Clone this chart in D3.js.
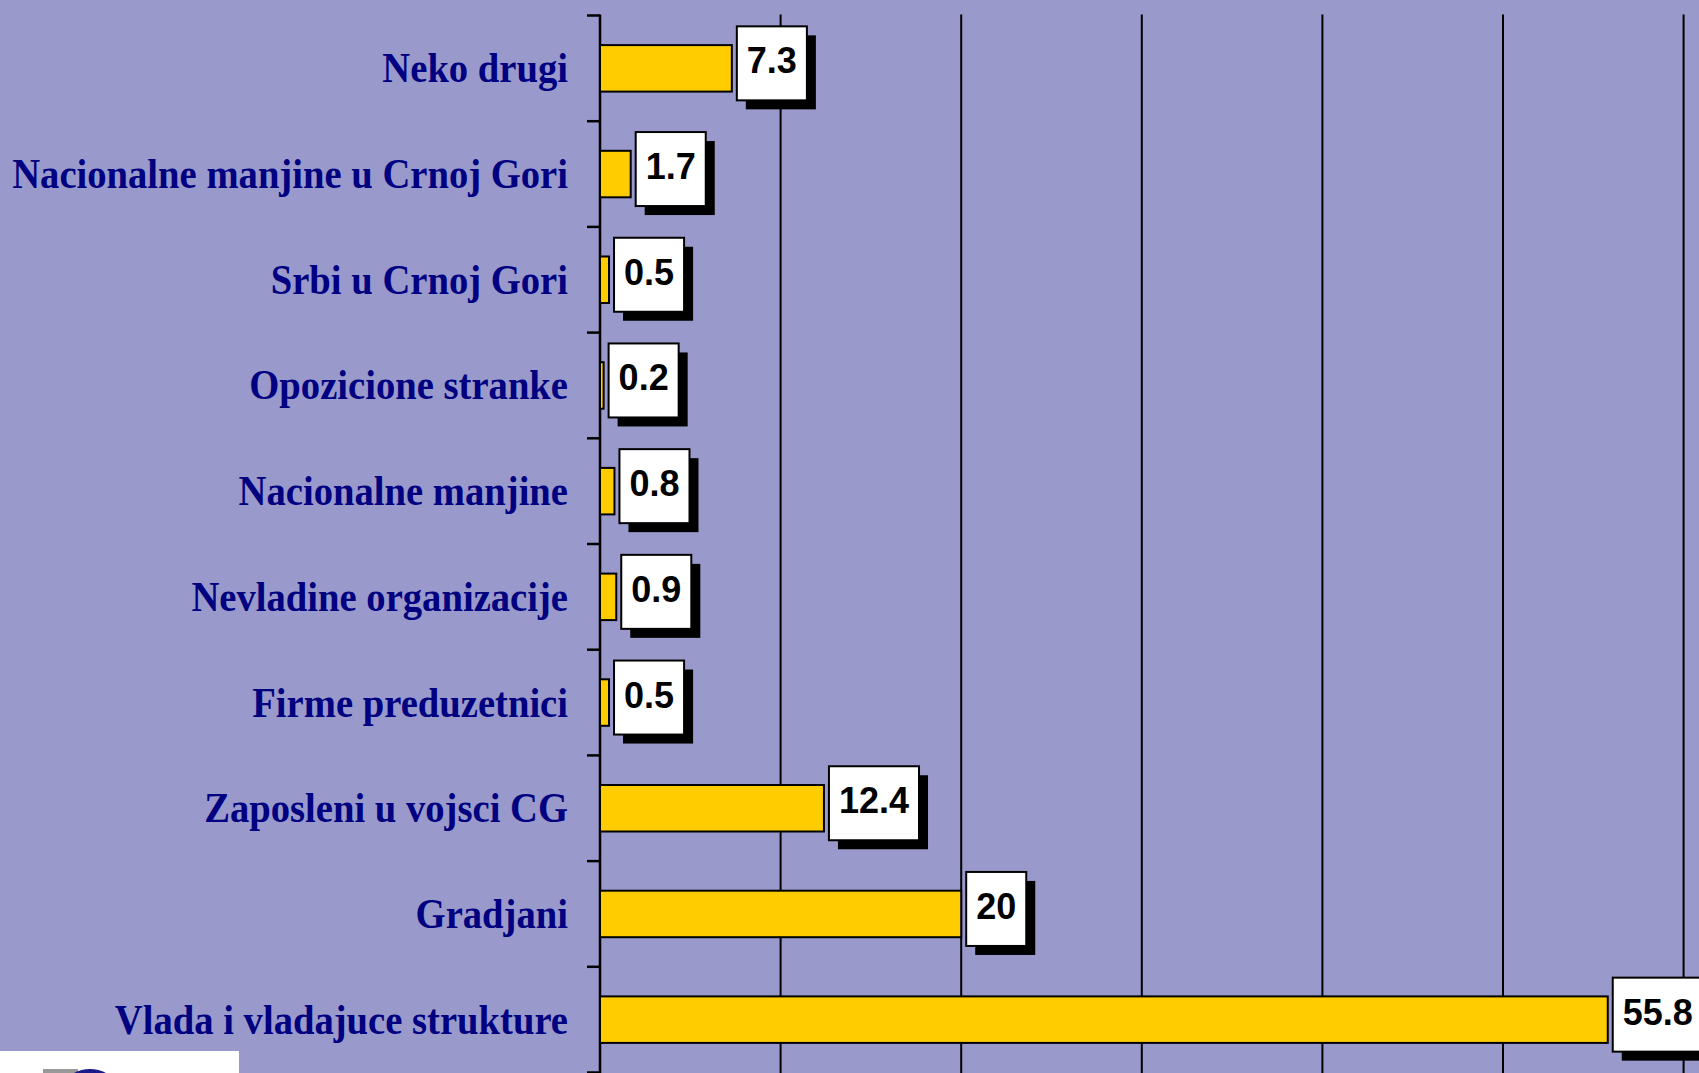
<!DOCTYPE html>
<html>
<head>
<meta charset="utf-8">
<script src="https://cdn.jsdelivr.net/npm/d3@7"></script>
<style>
  html, body { margin: 0; padding: 0; background: #9999cc; overflow: hidden; }
  svg { display: block; }
</style>
</head>
<body>
<svg class="chart"></svg>
<script>
const categories = [
    "Neko drugi",
    "Nacionalne manjine u Crnoj Gori",
    "Srbi u Crnoj Gori",
    "Opozicione stranke",
    "Nacionalne manjine",
    "Nevladine organizacije",
    "Firme preduzetnici",
    "Zaposleni u vojsci CG",
    "Gradjani",
    "Vlada i vladajuce strukture"
];
const values = [7.3, 1.7, 0.5, 0.2, 0.8, 0.9, 0.5, 12.4, 20, 55.8];
const valueLabels = ["7.3", "1.7", "0.5", "0.2", "0.8", "0.9", "0.5", "12.4", "20", "55.8"];
const gridTicks = [10, 20, 30, 40, 50, 60, 70, 80, 90, 100];

const chartWidth = 1699, chartHeight = 1073;
const axisX = 600, plotTop = 15.5;

const chart = d3.select(".chart").attr("width", chartWidth).attr("height", chartHeight);

chart.append("rect").attr("width", chartWidth).attr("height", chartHeight).attr("fill", "#9999cc");

const x = d3.scaleLinear().domain([0, 100]).range([axisX, axisX + 1806]);
const y = d3.scaleBand().domain(categories).range([plotTop, plotTop + 1057])
    .paddingInner(0.56).paddingOuter(0.28);

// vertical grid lines
chart.append("g").selectAll("line").data(gridTicks).enter().append("line")
    .attr("x1", (d) => { return x(d); })
    .attr("x2", (d) => { return x(d); })
    .attr("y1", plotTop - 1)
    .attr("y2", chartHeight)
    .attr("stroke", "#000")
    .attr("stroke-width", 2);

// category axis with ticks on band boundaries
chart.append("line")
    .attr("x1", axisX).attr("x2", axisX)
    .attr("y1", plotTop - 1).attr("y2", chartHeight)
    .attr("stroke", "#000").attr("stroke-width", 2.5);

chart.append("g").selectAll("line").data(d3.range(categories.length + 1)).enter().append("line")
    .attr("x1", axisX - 13).attr("x2", axisX)
    .attr("y1", (i) => { return plotTop + i * y.step(); })
    .attr("y2", (i) => { return plotTop + i * y.step(); })
    .attr("stroke", "#000").attr("stroke-width", 2.5);

// bars
chart.append("g").selectAll("rect").data(values).enter().append("rect")
    .attr("x", x(0))
    .attr("y", (d, i) => { return y(categories[i]); })
    .attr("width", (d) => { return x(d) - x(0); })
    .attr("height", y.bandwidth())
    .attr("fill", "#ffcc00")
    .attr("stroke", "#000")
    .attr("stroke-width", 2);

// value boxes with drop shadow
const boxes = chart.append("g").selectAll("g").data(values).enter().append("g")
    .attr("transform", (d, i) => {
        const cy = y(categories[i]) + y.bandwidth() / 2;
        return "translate(" + (x(d) + 5) + "," + (cy - 42) + ")";
    });

boxes.each(function(d, i){
    const g = d3.select(this);
    const t = g.append("text")
        .attr("x", 10)
        .attr("y", 47)
        .attr("font-family", "'Liberation Sans', Arial, sans-serif")
        .attr("font-weight", "bold")
        .attr("font-size", 36)
        .attr("fill", "#000")
        .text(valueLabels[i]);
    const w = t.node().getComputedTextLength() + 20;
    g.insert("rect", "text").attr("x", 9).attr("y", 9).attr("width", w).attr("height", 74).attr("fill", "#000");
    g.insert("rect", "text").attr("x", 0).attr("y", 0).attr("width", w).attr("height", 74)
        .attr("fill", "#fff").attr("stroke", "#000").attr("stroke-width", 2);
});

// category labels
chart.append("g").selectAll("text").data(categories).enter().append("text")
    .attr("transform", (d) => {
        return "translate(568," + (y(d) + y.bandwidth() / 2 + 14) + ") scale(0.92,1)";
    })
    .attr("text-anchor", "end")
    .attr("font-family", "'Liberation Serif', 'Times New Roman', serif")
    .attr("font-weight", "bold")
    .attr("font-size", 42)
    .attr("fill", "#000080")
    .text((d) => { return d; });

// logo corner
const logo = chart.append("g");
logo.append("rect").attr("x", 0).attr("y", 1051).attr("width", 239).attr("height", 22).attr("fill", "#fff");
logo.append("rect").attr("x", 43).attr("y", 1069).attr("width", 35).attr("height", 4).attr("fill", "#999");
logo.append("ellipse").attr("cx", 90).attr("cy", 1082).attr("rx", 22).attr("ry", 13).attr("fill", "#1a1a8c");
</script>
</body>
</html>
